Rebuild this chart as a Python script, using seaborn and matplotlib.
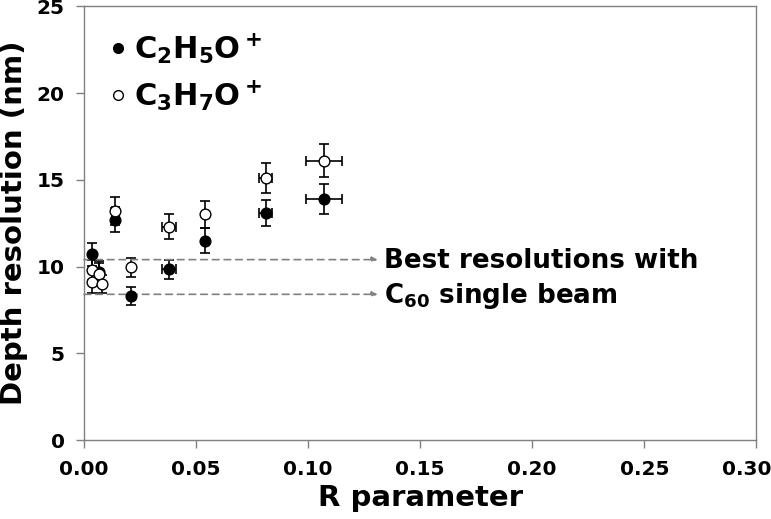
import matplotlib
matplotlib.use("Agg")
import matplotlib.pyplot as plt
import matplotlib.transforms as mtransforms
import seaborn as sns
import pandas as pd
import numpy as np
from matplotlib.lines import Line2D

# C2H5O+ (filled)
c2_x = [0.0036, 0.0067, 0.014, 0.021, 0.038, 0.054, 0.081, 0.107]
c2_y = [10.7, 9.7, 12.7, 8.3, 9.85, 11.5, 13.1, 13.9]
c2_yerr = [0.65, 0.6, 0.7, 0.5, 0.55, 0.7, 0.75, 0.85]
c2_xerr = [0.0, 0.0, 0.0015, 0.0, 0.003, 0.0, 0.003, 0.008]

# C3H7O+ (open)
c3_x = [0.0036, 0.0036, 0.0067, 0.008, 0.014, 0.021, 0.038, 0.054, 0.081, 0.107]
c3_y = [9.8, 9.1, 9.6, 9.0, 13.2, 9.95, 12.3, 13.0, 15.1, 16.1]
c3_yerr = [0.6, 0.6, 0.6, 0.5, 0.8, 0.55, 0.7, 0.8, 0.85, 0.95]
c3_xerr = [0.0, 0.0, 0.0, 0.0, 0.0015, 0.0, 0.003, 0.0, 0.003, 0.008]

best_lines = [10.4, 8.4]
xticks = [0.00, 0.05, 0.10, 0.15, 0.20, 0.25, 0.30]
yticks = [0, 5, 10, 15, 20, 25]

sns.set_style("white")
plt.rcParams['font.family'] = ['DejaVu Sans']
plt.rcParams['mathtext.fontset'] = 'dejavusans'
plt.rcParams['text.color'] = 'black'
plt.rcParams['axes.labelcolor'] = 'black'
plt.rcParams['xtick.color'] = 'black'
plt.rcParams['ytick.color'] = 'black'

fig = plt.figure(figsize=(7.71, 5.19), dpi=100)
ax = fig.add_axes([0.109, 0.152, 0.872, 0.836])

df = pd.concat([
    pd.DataFrame({"x": c2_x, "y": c2_y, "ion": "C2H5O+"}),
    pd.DataFrame({"x": c3_x, "y": c3_y, "ion": "C3H7O+"}),
])

# dashed reference lines with arrows
for yv in best_lines:
    ax.annotate("", xy=(0.131, yv), xytext=(0.0, yv),
                arrowprops=dict(arrowstyle="-|>", color="#808080", lw=1.2,
                                linestyle=(0, (4, 3)), mutation_scale=8,
                                shrinkA=0, shrinkB=0))

ax.errorbar(c2_x, c2_y, yerr=c2_yerr, xerr=c2_xerr, fmt="none", ecolor="black",
            elinewidth=1.2, capsize=3.5, capthick=1.2, zorder=2)
ax.errorbar(c3_x, c3_y, yerr=c3_yerr, xerr=c3_xerr, fmt="none", ecolor="black",
            elinewidth=1.2, capsize=3.5, capthick=1.2, zorder=2)

sns.scatterplot(data=df[df.ion == "C2H5O+"], x="x", y="y", ax=ax, s=60,
                color="black", edgecolor="black", linewidth=1.0, zorder=3, legend=False)
sns.scatterplot(data=df[df.ion == "C3H7O+"], x="x", y="y", ax=ax, s=60,
                color="white", edgecolor="black", linewidth=1.0, zorder=4, legend=False)

ax.set_xlim(0, 0.30)
ax.set_ylim(0, 25)
ax.set_xticks(xticks)
ax.set_yticks(yticks)
ax.set_xticklabels([f"{t:.2f}" for t in xticks], fontsize=14.5, fontweight="bold")
ax.set_yticklabels([str(t) for t in yticks], fontsize=14.5, fontweight="bold")
ax.tick_params(axis="both", direction="out", length=6, width=1, color="#808080",
               bottom=True, left=True, pad=8)
# keep the last x tick label inside the figure
last = ax.get_xticklabels()[-1]
last.set_transform(last.get_transform() +
                   mtransforms.ScaledTranslation(-10 / 100, 0, fig.dpi_scale_trans))
for s in ax.spines.values():
    s.set_color("#808080")
    s.set_linewidth(1.0)

ax.set_xlabel("R parameter", fontsize=21, fontweight="bold", labelpad=4)
ax.set_ylabel("Depth resolution (nm)", fontsize=21, fontweight="bold", labelpad=6)

# legend
handles = [
    Line2D([], [], marker="o", linestyle="none", markerfacecolor="black",
           markeredgecolor="black", markersize=7),
    Line2D([], [], marker="o", linestyle="none", markerfacecolor="white",
           markeredgecolor="black", markersize=7),
]
labels = [r"$\mathbf{C_2H_5O^+}$", r"$\mathbf{C_3H_7O^+}$"]
leg = ax.legend(handles, labels, loc="upper left", bbox_to_anchor=(0.0, 0.99),
                frameon=False, fontsize=22, handletextpad=0.15, labelspacing=0.4,
                handlelength=0.8, borderaxespad=0.3)

ax.text(0.134, 10.3, "Best resolutions with", fontsize=18.8, fontweight="bold",
        va="center", ha="left")
ax.text(0.134, 8.3, r"C$_{\mathbf{60}}$ single beam", fontsize=18.8, fontweight="bold",
        va="center", ha="left")

fig.savefig("out.png", dpi=100)
